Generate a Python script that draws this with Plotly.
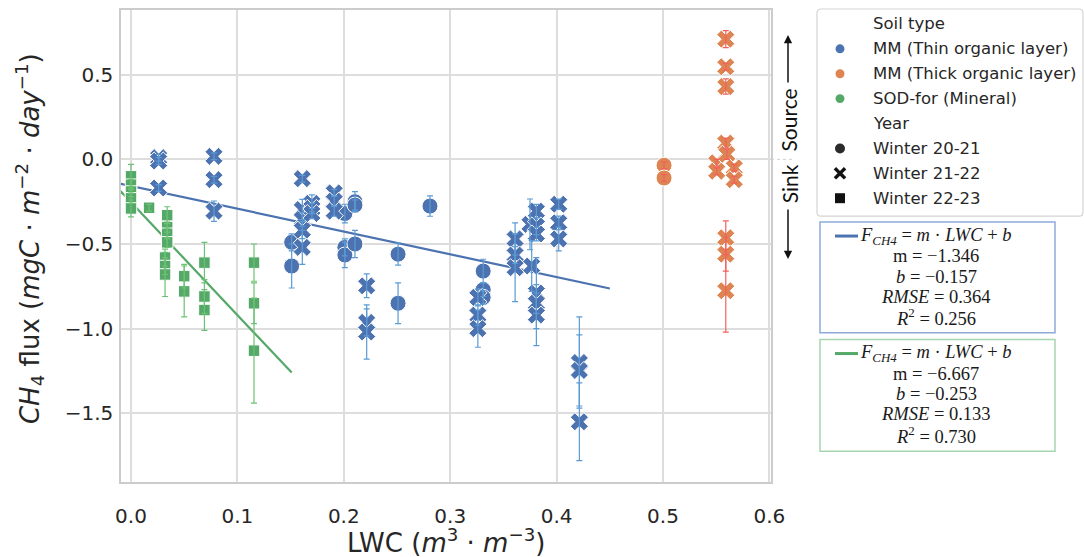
import math
import plotly.graph_objects as go

# ---------------- data ----------------
# MM (Thin organic layer), Winter 20-21 (circles)
thin_w1_lwc = [0.151, 0.151, 0.201, 0.201, 0.201, 0.2105, 0.2105, 0.2105, 0.251, 0.251, 0.281, 0.331, 0.331, 0.331]
thin_w1_flux = [-0.49, -0.63, -0.32, -0.52, -0.565, -0.25, -0.27, -0.50, -0.56, -0.85, -0.276, -0.66, -0.77, -0.815]
thin_w1_err = [0.05, 0.13, 0.055, 0.05, 0.075, 0.06, 0.03, 0.08, 0.065, 0.12, 0.06, 0.07, 0.04, 0.04]

# MM (Thin organic layer), Winter 21-22 (crosses)
thin_w2_lwc = [0.026, 0.026, 0.026, 0.078, 0.078, 0.078, 0.161, 0.161, 0.161, 0.161, 0.161,
               0.17, 0.17, 0.17, 0.191, 0.191, 0.191, 0.2215, 0.2215, 0.2215, 0.326, 0.326, 0.326,
               0.361, 0.361, 0.361, 0.375, 0.3766, 0.381, 0.381, 0.381, 0.381, 0.381, 0.381,
               0.402, 0.402, 0.402, 0.4214, 0.4214, 0.4214]
thin_w2_flux = [0.01, -0.01, -0.169, 0.018, -0.12, -0.306, -0.114, -0.296, -0.355, -0.418, -0.52,
                -0.26, -0.29, -0.32, -0.198, -0.247, -0.306, -0.747, -0.963, -1.02, -0.815, -0.92, -1.0,
                -0.47, -0.565, -0.64, -0.384, -0.63, -0.306, -0.394, -0.441, -0.79, -0.85, -0.92,
                -0.265, -0.375, -0.47, -1.2, -1.247, -1.55]
thin_w2_err = [0.02, 0.02, 0.02, 0.02, 0.02, 0.06, 0.02, 0.06, 0.04, 0.05, 0.1,
               0.05, 0.03, 0.03, 0.02, 0.03, 0.03, 0.07, 0.08, 0.16, 0.05, 0.06, 0.11,
               0.095, 0.05, 0.2, 0.15, 0.15, 0.04, 0.05, 0.04, 0.21, 0.06, 0.18,
               0.03, 0.04, 0.07, 0.27, 0.21, 0.23]

# MM (Thick organic layer)
thick_w1_lwc = [0.501, 0.501]
thick_w1_flux = [-0.035, -0.11]
thick_w1_err = [0.02, 0.02]
thick_w2_lwc = [0.559, 0.559, 0.559, 0.559, 0.5505, 0.5505, 0.56, 0.567, 0.567, 0.559, 0.559, 0.559]
thick_w2_flux = [0.71, 0.547, 0.43, 0.096, -0.02, -0.07, 0.03, -0.05, -0.12, -0.463, -0.56, -0.776]
thick_w2_err = [0.05, 0.02, 0.045, 0.03, 0.02, 0.02, 0.03, 0.02, 0.02, 0.1, 0.1, 0.245]

# SOD-for (Mineral), Winter 22-23 (squares)
min_w3_lwc = [0, 0, 0, 0, 0, 0.017, 0.034, 0.034, 0.034, 0.034, 0.032, 0.032, 0.032,
              0.05, 0.05, 0.069, 0.069, 0.069, 0.1156, 0.1156, 0.1156]
min_w3_flux = [-0.10, -0.15, -0.19, -0.23, -0.29, -0.286, -0.33, -0.40, -0.44, -0.49, -0.58, -0.63, -0.68,
               -0.69, -0.78, -0.61, -0.81, -0.89, -0.61, -0.85, -1.13]
min_w3_err = [0.07, 0.03, 0.03, 0.03, 0.05, 0.02, 0.05, 0.03, 0.03, 0.03, 0.05, 0.05, 0.13,
              0.07, 0.15, 0.12, 0.1, 0.12, 0.11, 0.12, 0.31]

# linear fits
thin_fit = {"m": -1.346, "b": -0.157, "rmse": 0.364, "r2": 0.256}
thin_fit_x = [-0.02, 0.45]
min_fit = {"m": -6.667, "b": -0.253, "rmse": 0.133, "r2": 0.730}
min_fit_x = [-0.02, 0.151]

x_ticks = [0.0, 0.1, 0.2, 0.3, 0.4, 0.5, 0.6]
y_ticks = [-1.5, -1.0, -0.5, 0.0, 0.5]

soil_labels = ["MM (Thin organic layer)", "MM (Thick organic layer)", "SOD-for (Mineral)"]
year_labels = ["Winter 20-21", "Winter 21-22", "Winter 22-23"]

# ---------------- style ----------------
BLUE, ORANGE, GREEN = "#4C72B0", "#DD8452", "#55A868"
BLUE_ERR, ORANGE_ERR, GREEN_ERR = "#5b9bd5", "#f2605e", "#6cc274"
TXT = "#262626"
FW, FH = 1084, 557
PL, PR, PT, PB = 121, 771, 8, 482
W, H = PR - PL, PB - PT


def P(xp, yp):
    return (xp - PL) / W, (PB - yp) / H


fig = go.Figure()


def fit_line(fit, xs, color):
    ys = [fit["m"] * x + fit["b"] for x in xs]
    fig.add_trace(go.Scatter(x=xs, y=ys, mode="lines", line=dict(color=color, width=2.2),
                             showlegend=False, hoverinfo="skip"))


fit_line(thin_fit, thin_fit_x, BLUE)
fit_line(min_fit, min_fit_x, GREEN)


def pts(xs, ys, color, symbol, size):
    fig.add_trace(go.Scatter(x=xs, y=ys, mode="markers",
                             marker=dict(color=color, symbol=symbol, size=size,
                                         line=dict(color="white", width=1)),
                             showlegend=False))


def errs(xs, ys, es, color):
    fig.add_trace(go.Scatter(x=xs, y=ys, mode="markers",
                             marker=dict(size=1, opacity=0),
                             error_y=dict(type="data", array=es, color=color, thickness=1.2, width=3),
                             showlegend=False, hoverinfo="skip"))


pts(thin_w1_lwc, thin_w1_flux, BLUE, "circle", 16)
pts(thin_w2_lwc, thin_w2_flux, BLUE, "x", 16)
pts(thick_w1_lwc, thick_w1_flux, ORANGE, "circle", 16)
pts(thick_w2_lwc, thick_w2_flux, ORANGE, "x", 16)
pts(min_w3_lwc, min_w3_flux, GREEN, "square", 11.5)

errs(thin_w1_lwc, thin_w1_flux, thin_w1_err, BLUE_ERR)
errs(thin_w2_lwc, thin_w2_flux, thin_w2_err, BLUE_ERR)
errs(thick_w1_lwc, thick_w1_flux, thick_w1_err, ORANGE_ERR)
errs(thick_w2_lwc, thick_w2_flux, thick_w2_err, ORANGE_ERR)
errs(min_w3_lwc, min_w3_flux, min_w3_err, GREEN_ERR)

shapes = []
annotations = []


def ann(xp, yp, text, size, color=TXT, family="DejaVu Sans", xanchor="center", angle=0):
    x, y = P(xp, yp)
    annotations.append(dict(x=x, y=y, xref="paper", yref="paper", text=text, showarrow=False,
                            xanchor=xanchor, yanchor="middle", textangle=angle,
                            font=dict(size=size, color=color, family=family)))


def path_from(points):
    s = ""
    for i, (a, b) in enumerate(points):
        x, y = P(a, b)
        s += ("M" if i == 0 else "L") + f"{x:.5f},{y:.5f} "
    return s + "Z"


# axis titles
ann(29, 238, "<i>CH</i><sub>4</sub> flux (<i>mgC</i> · <i>m</i><sup>−2</sup> · <i>day</i><sup>−1</sup>)",
    26, angle=-90)
ann(446, 541, "LWC (<i>m</i><sup>3</sup> · <i>m</i><sup>−3</sup>)", 26)

# ---------- legend (drawn manually) ----------
lx0, ly0, lx1, ly1, r = 817, 7, 1083, 215, 4
rr = (f"M{P(lx0 + r, ly0)[0]:.5f},{P(lx0 + r, ly0)[1]:.5f} "
      f"L{P(lx1 - r, ly0)[0]:.5f},{P(lx1 - r, ly0)[1]:.5f} "
      f"Q{P(lx1, ly0)[0]:.5f},{P(lx1, ly0)[1]:.5f} {P(lx1, ly0 + r)[0]:.5f},{P(lx1, ly0 + r)[1]:.5f} "
      f"L{P(lx1, ly1 - r)[0]:.5f},{P(lx1, ly1 - r)[1]:.5f} "
      f"Q{P(lx1, ly1)[0]:.5f},{P(lx1, ly1)[1]:.5f} {P(lx1 - r, ly1)[0]:.5f},{P(lx1 - r, ly1)[1]:.5f} "
      f"L{P(lx0 + r, ly1)[0]:.5f},{P(lx0 + r, ly1)[1]:.5f} "
      f"Q{P(lx0, ly1)[0]:.5f},{P(lx0, ly1)[1]:.5f} {P(lx0, ly1 - r)[0]:.5f},{P(lx0, ly1 - r)[1]:.5f} "
      f"L{P(lx0, ly0 + r)[0]:.5f},{P(lx0, ly0 + r)[1]:.5f} "
      f"Q{P(lx0, ly0)[0]:.5f},{P(lx0, ly0)[1]:.5f} {P(lx0 + r, ly0)[0]:.5f},{P(lx0 + r, ly0)[1]:.5f} Z")
shapes.append(dict(type="path", path=rr, xref="paper", yref="paper",
                   line=dict(color="#d4d4d4", width=1.2), fillcolor="white", layer="above"))

rows = ["Soil type"] + soil_labels + ["Year"] + year_labels
for i, t in enumerate(rows):
    ann(871, 22 + 25 * i, t, 16.5, xanchor="left")

mx = 840


def circ(cx, cy, d, color):
    x0, y0 = P(cx - d / 2, cy + d / 2)
    x1, y1 = P(cx + d / 2, cy - d / 2)
    shapes.append(dict(type="circle", xref="paper", yref="paper", x0=x0, y0=y0, x1=x1, y1=y1,
                       fillcolor=color, line=dict(width=0), layer="above"))


for i, c in enumerate([BLUE, ORANGE, GREEN]):
    circ(mx, 47 + 25 * i, 9, c)
DARK = "#2b2b2b"
circ(mx, 147, 10, DARK)
# cross marker
cy = 172
h, w = 7.2, 1.7
base = [(w, h), (w, w), (h, w), (h, -w), (w, -w), (w, -h), (-w, -h), (-w, -w), (-h, -w), (-h, w), (-w, w), (-w, h)]
c45 = math.cos(math.pi / 4)
rot = [(mx + (a - b) * c45, cy + (a + b) * c45) for a, b in base]
shapes.append(dict(type="path", path=path_from(rot), xref="paper", yref="paper",
                   fillcolor="#111111", line=dict(width=0), layer="above"))
sx0, sy0 = P(mx - 5, 197 + 5)
sx1, sy1 = P(mx + 5, 197 - 5)
shapes.append(dict(type="rect", xref="paper", yref="paper", x0=sx0, y0=sy0, x1=sx1, y1=sy1,
                   fillcolor="#111111", line=dict(width=0), layer="above"))

# ---------- equation boxes ----------
SERIF = "Liberation Serif"


def eq_box(y0, y1, border, line_color, fit):
    a0, b0 = P(820, y0)
    a1, b1 = P(1055, y1)
    shapes.append(dict(type="rect", xref="paper", yref="paper", x0=a0, y0=b1, x1=a1, y1=b0,
                       line=dict(color=border, width=1.5), fillcolor="white", layer="above"))
    ly = y0 + 14
    p0 = P(835, ly)
    p1 = P(858, ly)
    shapes.append(dict(type="line", xref="paper", yref="paper", x0=p0[0], y0=p0[1], x1=p1[0], y1=p1[1],
                       line=dict(color=line_color, width=3), layer="above"))
    lines = [
        "<i>F</i><sub><i>CH4</i></sub> = <i>m</i> · <i>LWC</i> + <i>b</i>",
        f"m = −{abs(fit['m']):.3f}",
        f"<i>b</i> = −{abs(fit['b']):.3f}",
        f"<i>RMSE</i> = {fit['rmse']:.3f}",
        f"<i>R</i><sup>2</sup> = {fit['r2']:.3f}",
    ]
    for k, t in enumerate(lines):
        ann(936, y0 + 14 + 20.4 * k, t, 18.5, color="#1a1a1a", family=SERIF)


eq_box(221, 332, "#8eaadb", BLUE, thin_fit)
eq_box(339, 451, "#a6d6b0", GREEN, min_fit)

# ---------- Sink / Source ----------
ann(789, 119, "Source", 21, color="#111111", family="Lato", angle=-90)
ann(789, 183, "Sink", 21, color="#111111", family="Lato", angle=-90)
for tip, tail in [((788, 33), (788, 82)), ((788, 258), (788, 207))]:
    tx, ty = P(*tip)
    annotations.append(dict(x=tx, y=ty, xref="paper", yref="paper", text="", showarrow=True,
                            ax=0, ay=tail[1] - tip[1], arrowhead=2, arrowsize=1.1, arrowwidth=1.5,
                            arrowcolor="#111111", standoff=0, startstandoff=0))
q0 = P(771, 158)
q1 = P(792, 158)
shapes.append(dict(type="line", xref="paper", yref="paper", x0=q0[0], y0=q0[1], x1=q1[0], y1=q1[1],
                   line=dict(color="#d0d0d0", width=1, dash="dot")))

axis_common = dict(showgrid=True, gridcolor="#dddddd", gridwidth=1.5, zeroline=False,
                   showline=True, mirror=True, linecolor="#cccccc", linewidth=1.5,
                   tickcolor="rgba(0,0,0,0)",
                   tickfont=dict(family="DejaVu Sans", size=20, color=TXT))

fig.update_layout(
    width=FW, height=FH,
    margin=dict(l=PL, r=FW - PR, t=PT, b=FH - PB),
    paper_bgcolor="white", plot_bgcolor="white",
    showlegend=False,
    xaxis=dict(range=[(PL - 131) / 1064, (PR - 131) / 1064], tickvals=x_ticks,
               ticktext=[f"{v:.1f}" for v in x_ticks], ticks="outside", ticklen=15, **axis_common),
    yaxis=dict(range=[(158 - PB) / 170, (158 - PT) / 170], tickvals=y_ticks,
               ticktext=[f"{v:.1f}".replace("-", "−") for v in y_ticks], ticks="outside", ticklen=2,
               **axis_common),
    shapes=shapes,
    annotations=annotations,
)

fig.write_html("out.html")
